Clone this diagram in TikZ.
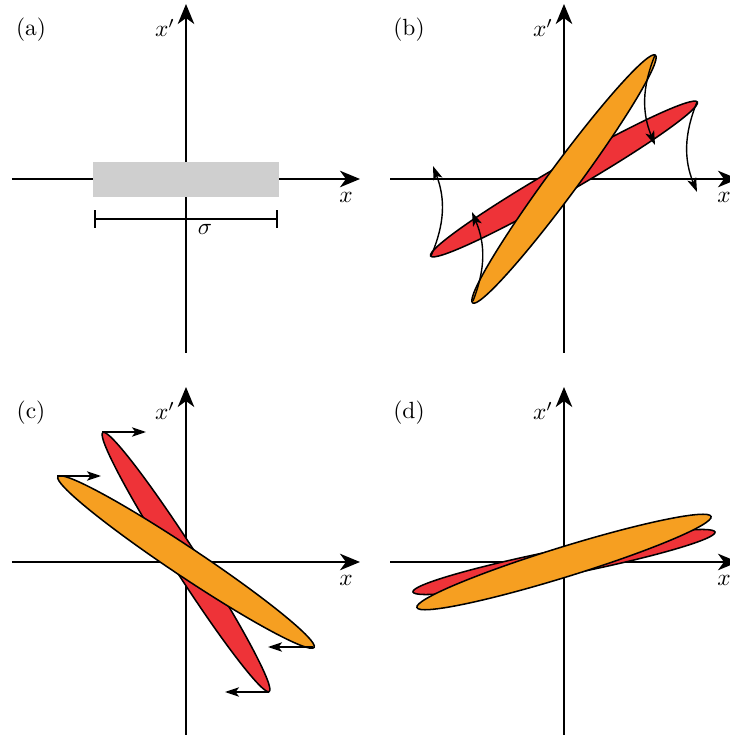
\documentclass[tikz,border=0pt]{standalone}
\usetikzlibrary{arrows.meta,calc}
\definecolor{ellred}{HTML}{EE3338}
\definecolor{ellorange}{HTML}{F69F21}
\definecolor{beamgray}{HTML}{CFCFCF}
\tikzset{
  axis/.style={line width=1.1pt,-{Stealth[length=8.5pt,width=7pt,inset=2.5pt]}},
  redell/.style={fill=ellred,draw=black,line width=0.65pt},
  orangeell/.style={fill=ellorange,draw=black,line width=0.65pt},
  move/.style={line width=0.6pt,-{Stealth[length=6pt,width=4pt,inset=1.5pt]}},
}
% axes and labels of one panel: #1 name prefix, #2 panel letter
\newcommand{\phaseaxes}[2]{%
  \coordinate (#1xl) at (-174,0); \coordinate (#1xr) at (174,0);
  \coordinate (#1yb) at (0,-174); \coordinate (#1yt) at (0,175);
  \draw[axis] (#1xl) -- (#1xr);
  \draw[axis] (#1yb) -- (#1yt);
  \node (#1xlab) at (160,-18) {$x$};
  \node (#1ylab) at (-21,151) {$x'$};
  \node (#1lab) at (-155,149) {(#2)};
}
\begin{document}
\begin{tikzpicture}[x=0.015cm,y=0.015cm]
  \useasboundingbox (0,0) rectangle (730,735);
  \clip (0,0) rectangle (730,735);
  % --- (a) beam before the kick
  \begin{scope}[shift={(186,556)}]
    \phaseaxes{a}{a}
    \fill[beamgray] (-93,-18) rectangle (93,17);
    \coordinate (sl) at (-92,-40); \coordinate (sr) at (92,-40);
    \draw[line width=1pt,{Bar[width=7.3pt]}-{Bar[width=7.3pt]}] (sl) -- (sr);
    \node (sig) at (19,-50) {$\sigma$};
  \end{scope}
  % --- (b) rotation
  \begin{scope}[shift={(564,556)}]
    \phaseaxes{b}{b}
    \draw[redell,rotate=30] (0,0) ellipse [x radius=154, y radius=13.5];
    \draw[orangeell,rotate=53.6] (0,0) ellipse [x radius=154, y radius=15];
    \coordinate (bR1) at (-133,-77); \coordinate (bR1e) at (-131,13);
    \coordinate (bO1) at (-91,-122); \coordinate (bO1e) at (-92,-33);
    \coordinate (bO2) at (91,124);   \coordinate (bO2e) at (91,34);
    \coordinate (bR2) at (133,77);   \coordinate (bR2e) at (133,-13);
    \draw[move] (bR1) to[bend right=22] (bR1e);
    \draw[move] (bO1) to[bend right=22] (bO1e);
    \draw[move] (bO2) to[bend right=22] (bO2e);
    \draw[move] (bR2) to[bend right=22] (bR2e);
  \end{scope}
  % --- (c) shear
  \begin{scope}[shift={(186,173)}]
    \phaseaxes{c}{c}
    \draw[redell,rotate=-57.3] (0,0) ellipse [x radius=154, y radius=13];
    \draw[orangeell,rotate=-33.7] (0,0) ellipse [x radius=154, y radius=14.5];
    \coordinate (cR1) at (-84,130);  \coordinate (cR1e) at (-40,130);
    \coordinate (cO1) at (-129,86);  \coordinate (cO1e) at (-85,86);
    \coordinate (cO2) at (127,-85);  \coordinate (cO2e) at (82,-85);
    \coordinate (cR2) at (83,-130);  \coordinate (cR2e) at (39,-130);
    \draw[move] (cR1) -- (cR1e);
    \draw[move] (cO1) -- (cO1e);
    \draw[move] (cO2) -- (cO2e);
    \draw[move] (cR2) -- (cR2e);
  \end{scope}
  % --- (d) after the kick
  \begin{scope}[shift={(564,173)}]
    \phaseaxes{d}{d}
    \draw[redell,rotate=11.2] (0,0) ellipse [x radius=154, y radius=13];
    \draw[orangeell,rotate=17.2] (0,0) ellipse [x radius=154, y radius=15];
  \end{scope}
\end{tikzpicture}
\end{document}
